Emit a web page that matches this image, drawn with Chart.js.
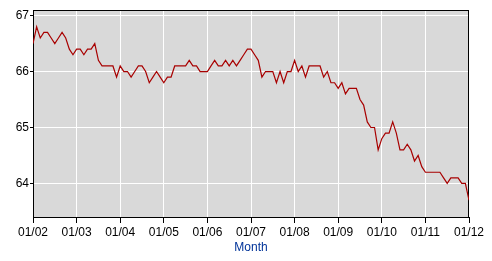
<!DOCTYPE html>
<html>
<head>
<meta charset="utf-8">
<script src="https://cdn.jsdelivr.net/npm/chart.js@4/dist/chart.umd.min.js"></script>
<style>
    html, body { margin: 0; padding: 0; background: #fff; }
    #wrap { width: 492px; height: 261px; position: relative; }
</style>
</head>
<body>
<div id="wrap"><canvas id="rateChart"></canvas></div>
<script>
// Monthly values, one array per year (Jan..Dec)
const rate2002 = [66.5, 66.8, 66.6, 66.7, 66.7, 66.6, 66.5, 66.6, 66.7, 66.6, 66.4, 66.3];
const rate2003 = [66.4, 66.4, 66.3, 66.4, 66.4, 66.5, 66.2, 66.1, 66.1, 66.1, 66.1, 65.9];
const rate2004 = [66.1, 66.0, 66.0, 65.9, 66.0, 66.1, 66.1, 66.0, 65.8, 65.9, 66.0, 65.9];
const rate2005 = [65.8, 65.9, 65.9, 66.1, 66.1, 66.1, 66.1, 66.2, 66.1, 66.1, 66.0, 66.0];
const rate2006 = [66.0, 66.1, 66.2, 66.1, 66.1, 66.2, 66.1, 66.2, 66.1, 66.2, 66.3, 66.4];
const rate2007 = [66.4, 66.3, 66.2, 65.9, 66.0, 66.0, 66.0, 65.8, 66.0, 65.8, 66.0, 66.0];
const rate2008 = [66.2, 66.0, 66.1, 65.9, 66.1, 66.1, 66.1, 66.1, 65.9, 66.0, 65.8, 65.8];
const rate2009 = [65.7, 65.8, 65.6, 65.7, 65.7, 65.7, 65.5, 65.4, 65.1, 65.0, 65.0, 64.6];
const rate2010 = [64.8, 64.9, 64.9, 65.1, 64.9, 64.6, 64.6, 64.7, 64.6, 64.4, 64.5, 64.3];
const rate2011 = [64.2, 64.2, 64.2, 64.2, 64.2, 64.1, 64.0, 64.1, 64.1, 64.1, 64.0, 64.0];
const rate2012 = [63.7];

const xTickLabels = ['01/02', '01/03', '01/04', '01/05', '01/06', '01/07', '01/08', '01/09', '01/10', '01/11', '01/12'];
const yTicks = [64, 65, 66, 67];

const allRates = [].concat(rate2002, rate2003, rate2004, rate2005, rate2006,
    rate2007, rate2008, rate2009, rate2010, rate2011, rate2012);
const points = allRates.map((v, i) => ({ x: i, y: v }));

const FONT = { family: '"Liberation Sans", Arial, sans-serif', size: 12 };

// gray plot background and black frame
const plotFrame = {
    id: 'plotFrame',
    beforeDraw(chart) {
        const a = chart.chartArea;
        const ctx = chart.ctx;
        ctx.save();
        ctx.fillStyle = '#d9d9d9';
        ctx.fillRect(a.left, a.top, a.right - a.left, a.bottom - a.top);
        ctx.restore();
    },
    beforeDatasetsDraw(chart) {
        const a = chart.chartArea;
        const ctx = chart.ctx;
        ctx.save();
        ctx.strokeStyle = '#000';
        ctx.lineWidth = 1;
        ctx.strokeRect(Math.round(a.left) + 0.5, Math.round(a.top) + 0.5,
            Math.round(a.right - a.left) - 1, Math.round(a.bottom - a.top));
        ctx.restore();
    }
};

new Chart(document.getElementById('rateChart').getContext('2d'), {
    type: 'line',
    data: {
        datasets: [{
            data: points,
            borderColor: '#a80000',
            borderWidth: 1.2,
            pointRadius: 0,
            tension: 0,
            fill: false
        }]
    },
    options: {
        responsive: true,
        maintainAspectRatio: false,
        animation: false,
        layout: { padding: { top: 10, right: 23, left: 0, bottom: 0 } },
        plugins: {
            legend: { display: false },
            tooltip: { enabled: false }
        },
        scales: {
            x: {
                type: 'linear',
                min: 0,
                max: 120,
                afterBuildTicks: s => { s.ticks = xTickLabels.map((t, i) => ({ value: i * 12 })); },
                afterFit: s => { s.height = 44; },
                grid: { color: '#fff', lineWidth: 1, tickColor: '#000', tickLength: 6 },
                border: { display: true, color: '#000' },
                ticks: {
                    color: '#000',
                    font: FONT,
                    padding: 2,
                    maxRotation: 0,
                    autoSkip: false,
                    callback: v => xTickLabels[v / 12]
                },
                title: {
                    display: true,
                    text: 'Month',
                    color: '#003399',
                    font: FONT,
                    padding: { top: 0, bottom: 6 }
                }
            },
            y: {
                min: 63.4,
                max: 67.1,
                afterBuildTicks: s => { s.ticks = yTicks.map(v => ({ value: v })); },
                afterFit: s => { s.width = 33; },
                grid: { color: '#fff', lineWidth: 1, tickColor: '#000', tickLength: 3 },
                border: { display: true, color: '#000' },
                ticks: { color: '#000', font: FONT, padding: 1 }
            }
        }
    },
    plugins: [plotFrame]
});
</script>
</body>
</html>
